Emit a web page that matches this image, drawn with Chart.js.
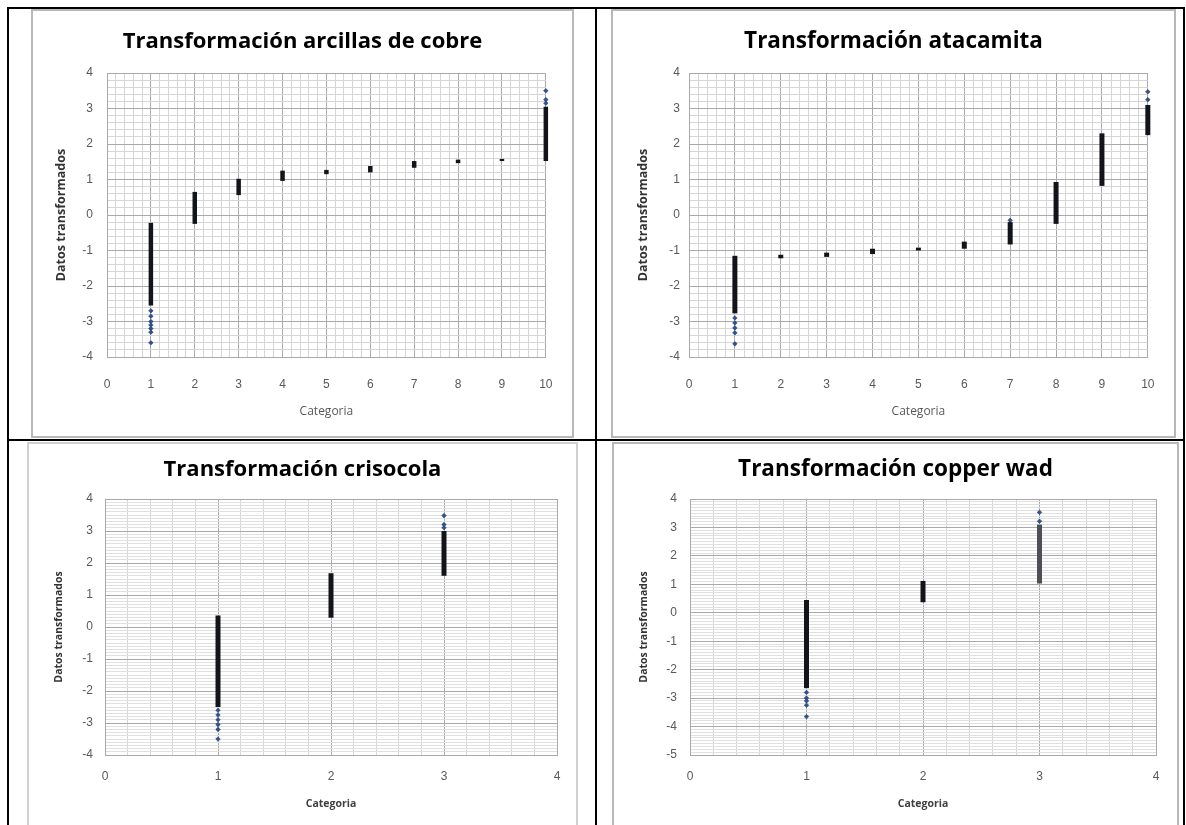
<!DOCTYPE html>
<html>
<head>
<meta charset="utf-8">
<script src="https://cdn.jsdelivr.net/npm/chart.js@4.4.1/dist/chart.umd.min.js"></script>
<style>
body { margin:0; background:#fff; width:1186px; height:825px; overflow:hidden; position:relative; }
.raya { position:absolute; background:#000; }
.marco { position:absolute; border:2px solid #b8b8b8; box-sizing:border-box; }
.caja { position:absolute; }
</style>
</head>
<body>
<!-- tabla que enmarca los cuatro graficos -->
<div class="raya" style="left:7px;top:7px;width:1178px;height:2px"></div>
<div class="raya" style="left:7px;top:439px;width:1178px;height:2px"></div>
<div class="raya" style="left:7px;top:7px;width:2px;height:818px"></div>
<div class="raya" style="left:595px;top:7px;width:2px;height:818px"></div>
<div class="raya" style="left:1183px;top:7px;width:2px;height:818px"></div>

<div class="marco" style="left:31px;top:9px;width:543px;height:429px"></div>
<div class="marco" style="left:611px;top:9px;width:565px;height:429px"></div>
<div class="marco" style="left:27px;top:442px;width:551px;height:390px;border-color:#d0d0d0"></div>
<div class="marco" style="left:612px;top:442px;width:567px;height:390px"></div>

<div class="caja" style="left:32px;top:10px"><canvas id="g1" width="541" height="427"></canvas></div>
<div class="caja" style="left:612px;top:10px"><canvas id="g2" width="563" height="427"></canvas></div>
<div class="caja" style="left:28px;top:443px"><canvas id="g3" width="549" height="382"></canvas></div>
<div class="caja" style="left:613px;top:443px"><canvas id="g4" width="565" height="382"></canvas></div>

<script>
// Transformación arcillas de cobre
const arcillasCat = [1, 2, 3, 4, 5, 6, 7, 8, 9, 10];
const arcillasMin = [-2.55, -0.25, 0.56, 0.96, 1.15, 1.2, 1.33, 1.46, 1.52, 1.52];
const arcillasMax = [-0.22, 0.65, 1.02, 1.25, 1.27, 1.38, 1.52, 1.56, 1.58, 3.05];
const arcillasSueltosX = [1, 1, 1, 1, 1, 1, 1, 10, 10, 10];
const arcillasSueltosY = [-2.7, -2.85, -3.0, -3.1, -3.2, -3.3, -3.6, 3.15, 3.25, 3.5];

// Transformación atacamita
const atacamitaCat = [1, 2, 3, 4, 5, 6, 7, 8, 9, 10];
const atacamitaMin = [-2.77, -1.22, -1.18, -1.1, -1.0, -0.95, -0.83, -0.25, 0.82, 2.25];
const atacamitaMax = [-1.15, -1.12, -1.06, -0.95, -0.92, -0.75, -0.2, 0.93, 2.3, 3.1];
const atacamitaSueltosX = [1, 1, 1, 1, 1, 7, 10, 10];
const atacamitaSueltosY = [-2.9, -3.04, -3.18, -3.32, -3.63, -0.15, 3.25, 3.47];

// Transformación crisocola
const crisocolaCat = [1, 2, 3];
const crisocolaMin = [-2.5, 0.29, 1.6];
const crisocolaMax = [0.36, 1.68, 3.0];
const crisocolaSueltosX = [1, 1, 1, 1, 1, 1, 3, 3, 3];
const crisocolaSueltosY = [-2.6, -2.75, -2.9, -3.05, -3.2, -3.5, 3.1, 3.2, 3.48];

// Transformación copper wad
const wadCat = [1, 2, 3];
const wadMin = [-2.65, 0.37, 1.03];
const wadMax = [0.45, 1.12, 3.1];
const wadSueltosX = [1, 1, 1, 1, 1, 3, 3];
const wadSueltosY = [-2.8, -3.0, -3.1, -3.25, -3.65, 3.22, 3.53];

// ejes: etiquetas enteras, lineas menores cada paso (en decimas)
const ejeX10 = [0, 1, 2, 3, 4, 5, 6, 7, 8, 9, 10];
const ejeX4 = [0, 1, 2, 3, 4];
const ejeY4 = [-4, -3, -2, -1, 0, 1, 2, 3, 4];
const ejeY5 = [-5, -4, -3, -2, -1, 0, 1, 2, 3, 4];

const esEntero = v => Math.abs(v - Math.round(v)) < 1e-6;

function marcas(etiquetas, paso) {
  const t = [];
  const a = Math.round(etiquetas[0] * 10), b = Math.round(etiquetas[etiquetas.length - 1] * 10);
  for (let k = a; k <= b; k += paso) t.push({value: k / 10});
  return t;
}

function grafico(id, o) {
  const datasets = o.cat.map((c, i) => ({
    data: [{x: c, y: o.min[i]}, {x: c, y: o.max[i]}],
    showLine: true,
    clip: false,
    borderColor: o.colorCol ? o.colorCol[i] : '#121419',
    borderWidth: o.ancho,
    pointRadius: 0
  }));
  datasets.push({
    data: o.sx.map((x, i) => ({x: x, y: o.sy[i]})),
    showLine: false,
    clip: false,
    pointStyle: 'rectRot',
    pointRadius: 2.3,
    backgroundColor: '#2e528f',
    borderColor: '#1f3a66',
    borderWidth: 0.5
  });

  new Chart(document.getElementById(id), {
    type: 'scatter',
    data: {datasets: datasets},
    options: {
      responsive: false,
      animation: false,
      events: [],
      // mismo margen a ambos lados para que el titulo quede centrado en el marco
      layout: {padding: {left: o.margen, right: o.margen}},
      plugins: {
        legend: {display: false},
        tooltip: {enabled: false},
        title: {
          display: true, text: o.titulo, color: '#000',
          font: {family: 'Open Sans', size: o.tamTitulo, weight: 'bold'},
          padding: {top: o.tituloArriba, bottom: o.tituloAbajo}
        }
      },
      scales: {
        x: {
          type: 'linear', min: o.ejeX[0], max: o.ejeX[o.ejeX.length - 1],
          afterBuildTicks: s => { s.ticks = marcas(o.ejeX, 2); },
          afterFit: s => { s.height = o.altoX; },
          ticks: {
            autoSkip: false, maxRotation: 0, color: '#595959', padding: o.padX,
            font: {family: 'Liberation Sans', size: 12},
            callback: v => esEntero(v) ? String(Math.round(v)) : ''
          },
          grid: {
            drawTicks: false,
            color: c => c.tick && esEntero(c.tick.value) ? '#a9a9a9' : '#d6d6d6'
          },
          border: {display: true, color: '#a9a9a9'},
          title: {
            display: true, text: 'Categoria', color: o.colorCat,
            font: {family: 'Open Sans', size: o.tamCat, weight: o.pesoCat},
            padding: {bottom: o.catAbajo}
          }
        },
        y: {
          type: 'linear', min: o.ejeY[0], max: o.ejeY[o.ejeY.length - 1],
          afterBuildTicks: s => { s.ticks = marcas(o.ejeY, o.pasoY); },
          afterFit: s => { s.width = o.anchoY - o.margen; },
          ticks: {
            autoSkip: false, color: '#595959', padding: o.padY,
            font: {family: 'Liberation Sans', size: 12},
            callback: v => esEntero(v) ? String(Math.round(v)) : ''
          },
          grid: {
            drawTicks: false,
            color: c => c.tick && esEntero(c.tick.value) ? '#a9a9a9' : o.menorY
          },
          border: {display: true, color: '#a9a9a9'},
          title: {
            display: true, text: 'Datos transformados', color: '#333',
            font: {family: 'Open Sans', size: o.tamDatos, weight: 'bold'},
            padding: {top: o.datosIzq - o.margen}
          }
        }
      }
    }
  });
}

grafico('g1', {
  titulo: 'Transformación arcillas de cobre', tamTitulo: 22, tituloArriba: 19, tituloAbajo: 17.6,
  cat: arcillasCat, min: arcillasMin, max: arcillasMax, sx: arcillasSueltosX, sy: arcillasSueltosY, ancho: 4.5,
  ejeX: ejeX10, ejeY: ejeY4, pasoY: 2, menorY: '#d6d6d6',
  margen: 22, anchoY: 75, altoX: 80, padX: 20.5, padY: 14,
  tamDatos: 12.5, datosIzq: 21.5, tamCat: 12, pesoCat: 'normal', colorCat: '#595959', catAbajo: 18
});

grafico('g2', {
  titulo: 'Transformación atacamita', tamTitulo: 22.5, tituloArriba: 18.5, tituloAbajo: 17.5,
  cat: atacamitaCat, min: atacamitaMin, max: atacamitaMax, sx: atacamitaSueltosX, sy: atacamitaSueltosY, ancho: 5,
  ejeX: ejeX10, ejeY: ejeY4, pasoY: 2, menorY: '#d6d6d6',
  margen: 22, anchoY: 77, altoX: 80, padX: 20.5, padY: 9,
  tamDatos: 12.5, datosIzq: 24, tamCat: 12, pesoCat: 'normal', colorCat: '#595959', catAbajo: 18
});

grafico('g3', {
  titulo: 'Transformación crisocola', tamTitulo: 22, tituloArriba: 13.8, tituloAbajo: 15.8,
  cat: crisocolaCat, min: crisocolaMin, max: crisocolaMax, sx: crisocolaSueltosX, sy: crisocolaSueltosY, ancho: 5,
  ejeX: ejeX4, ejeY: ejeY4, pasoY: 1, menorY: '#e0e0e0',
  margen: 20, anchoY: 77, altoX: 70, padX: 14.5, padY: 12,
  tamDatos: 10.5, datosIzq: 24.5, tamCat: 10.5, pesoCat: 'bold', colorCat: '#404040', catAbajo: 14.5
});

grafico('g4', {
  titulo: 'Transformación copper wad', tamTitulo: 22.5, tituloArriba: 13.5, tituloAbajo: 15.5,
  cat: wadCat, min: wadMin, max: wadMax, sx: wadSueltosX, sy: wadSueltosY, ancho: 5,
  colorCol: ['#121419', '#121419', '#4d4f55'],
  ejeX: ejeX4, ejeY: ejeY5, pasoY: 1, menorY: '#e0e0e0',
  margen: 22, anchoY: 77, altoX: 70, padX: 14.5, padY: 13,
  tamDatos: 10.5, datosIzq: 24.5, tamCat: 10.5, pesoCat: 'bold', colorCat: '#404040', catAbajo: 14.5
});
</script>
</body>
</html>
